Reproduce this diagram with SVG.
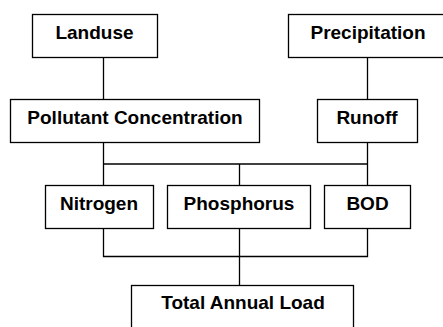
<svg xmlns="http://www.w3.org/2000/svg" width="443" height="327" viewBox="0 0 443 327">
  <style>
    .box { fill: #ffffff; stroke: #000000; stroke-width: 1.3; }
    .lbl { font-family: "Liberation Sans", Arial, sans-serif; font-weight: bold; font-size: 19px; fill: #000000; text-anchor: middle; }
    .conn { fill: none; stroke: #000000; stroke-width: 1.3; }
  </style>
  <rect x="0" y="0" width="443" height="327" fill="#ffffff"/>
  <g id="connectors">
    <path class="conn" d="M103.5 57.5 V99.5"/>
    <path class="conn" d="M367.5 57.5 V99.5"/>
    <path class="conn" d="M103.5 142.5 V185.5"/>
    <path class="conn" d="M367.5 142.5 V185.5"/>
    <path class="conn" d="M103.5 164 H367.5"/>
    <path class="conn" d="M239.5 164 V185.5"/>
    <path class="conn" d="M103.5 228.5 V256.5 H367.5 V228.5"/>
    <path class="conn" d="M239.5 228.5 V285.5"/>
  </g>
  <g id="landuse">
    <rect class="box" x="32.5" y="14.5" width="125" height="43"/>
    <text class="lbl" x="94.5" y="38.5">Landuse</text>
  </g>
  <g id="precipitation">
    <rect class="box" x="288.5" y="14.5" width="160" height="43"/>
    <text class="lbl" x="368" y="38.5">Precipitation</text>
  </g>
  <g id="pollutant-concentration">
    <rect class="box" x="10.5" y="99.5" width="249" height="43"/>
    <text class="lbl" x="135" y="124">Pollutant Concentration</text>
  </g>
  <g id="runoff">
    <rect class="box" x="317.5" y="99.5" width="100" height="43"/>
    <text class="lbl" x="367" y="124">Runoff</text>
  </g>
  <g id="nitrogen">
    <rect class="box" x="45.5" y="185.5" width="108" height="43"/>
    <text class="lbl" x="99" y="210">Nitrogen</text>
  </g>
  <g id="phosphorus">
    <rect class="box" x="167.5" y="185.5" width="143" height="43"/>
    <text class="lbl" x="239" y="210">Phosphorus</text>
  </g>
  <g id="bod">
    <rect class="box" x="324.5" y="185.5" width="86" height="43"/>
    <text class="lbl" x="367.5" y="210">BOD</text>
  </g>
  <g id="total-annual-load">
    <rect class="box" x="131.5" y="285.5" width="222" height="60"/>
    <text class="lbl" x="243" y="309">Total Annual Load</text>
  </g>
</svg>
